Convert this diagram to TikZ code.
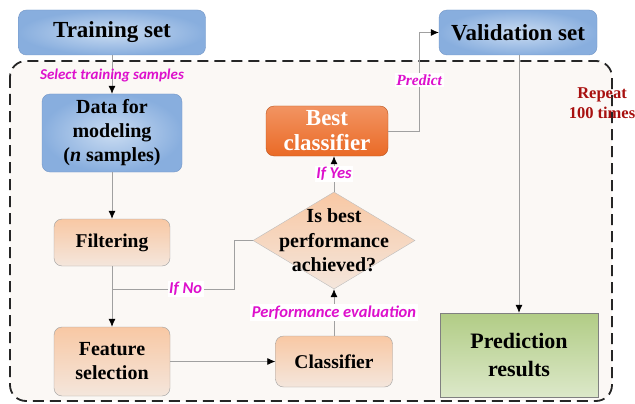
\documentclass[tikz,border=0pt]{standalone}
\usepackage{fontspec}
\setmainfont{Liberation Serif}
\newfontfamily\lblfont{Carlito}
\usetikzlibrary{shapes.geometric,arrows.meta}
\definecolor{fcblue}{HTML}{88AEDE}
\definecolor{fcbluelight}{HTML}{CADCF2}
\definecolor{fcblueline}{HTML}{7396C6}
\definecolor{fcpeach}{HTML}{F8C8A4}
\definecolor{fcpeachlight}{HTML}{F4E6DC}
\definecolor{fcorange}{HTML}{EA6A26}
\definecolor{fcorangelight}{HTML}{F29462}
\definecolor{fcgreen}{HTML}{B1CC85}
\definecolor{fcgreenlight}{HTML}{DCE8C9}
\definecolor{fcgrey}{HTML}{A0A0A0}
\definecolor{fcmag}{HTML}{DD10CC}
\definecolor{fcred}{HTML}{A8100F}
\definecolor{fcback}{HTML}{FBF8F5}
\begin{document}
\begin{tikzpicture}[x=1pt,y=-1pt,
    every text node part/.style={align=center},
    box/.style={rounded corners=8pt, inner sep=0pt, font=\bfseries\fontsize{20}{24}\selectfont},
    bluebox/.style={box, draw=fcblueline, inner color=fcbluelight, outer color=fcblue},
    peachbox/.style={box, draw=fcgrey, top color=fcpeach, bottom color=fcpeachlight},
    flow/.style={draw=fcgrey, line width=0.8pt, -{Latex[length=8pt,width=7pt,color=black]}},
    lbl/.style={font=\lblfont\bfseries\itshape\fontsize{16.5}{18}\selectfont, text=fcmag, inner sep=1.5pt}]
    \useasboundingbox (0,0) rectangle (635,404);
    \draw[black!85, line width=1.8pt, dash pattern=on 11pt off 6pt, rounded corners=16pt, fill=fcback]
      (10,61) rectangle (612,401);

    \node[bluebox, minimum width=187pt, minimum height=45pt, font=\bfseries\fontsize{23}{27}\selectfont] (FcTrain) at (112,32.5) {Training set};
    \node[bluebox, minimum width=158pt, minimum height=45pt, font=\bfseries\fontsize{23}{27}\selectfont] (FcVal) at (518,32.5) {Validation set};
    \node[bluebox, minimum width=140pt, minimum height=78pt] (FcData) at (112,133) {Data for\\modeling\\(\textit{n} samples)};
    \node[peachbox, minimum width=116pt, minimum height=47pt, font=\bfseries\fontsize{19.5}{23}\selectfont] (FcFilter) at (112,242.5) {Filtering};
    \node[peachbox, minimum width=116pt, minimum height=69pt] (FcFeat) at (112,361.5) {Feature\\selection};
    \node[peachbox, minimum width=117pt, minimum height=51pt, font=\bfseries\fontsize{19.5}{23}\selectfont] (FcClass) at (334,361.5) {Classifier};
    \node[diamond, draw=fcgrey!70, top color=fcpeach, bottom color=fcpeachlight, inner sep=0pt,
      minimum width=162pt, minimum height=97pt,
      label={[font=\bfseries\fontsize{20}{24.5}\selectfont, align=center]center:Is best\\performance\\achieved?}] (FcCheck) at (334,240.5) {};
    \node[box, draw=fcorange!80!black, top color=fcorangelight, bottom color=fcorange, text=white,
      minimum width=122pt, minimum height=50pt, font=\bfseries\fontsize{23}{25}\selectfont] (FcBest) at (327,131) {Best\\classifier};
    \node[draw=fcgrey!80!black, top color=fcgreen, bottom color=fcgreenlight, inner sep=0pt,
      minimum width=158pt, minimum height=84pt, font=\bfseries\fontsize{22}{28}\selectfont] (FcPred) at (519,355) {Prediction\\results};
    \node[text=fcred, font=\bfseries\fontsize{16.5}{20}\selectfont] (FcRepeat) at (602,103) {Repeat\\100 times};
    \coordinate (FcNoJoin) at (112,289);

    \draw[flow] (FcTrain) -- node[lbl, pos=0.52, font=\lblfont\bfseries\itshape\fontsize{15}{17}\selectfont] {Select training samples} (FcData);
    \draw[flow] (FcData) -- (FcFilter);
    \draw[flow] (FcFilter) -- (FcFeat);
    \draw[flow] (FcFeat) -- (FcClass);
    \draw[flow] (FcClass) -- node[lbl, fill=white] {Performance evaluation} (FcCheck);
    \draw[flow] (FcCheck.north) -- node[lbl, fill=white] {If Yes} (FcCheck.north |- FcBest.south);
    \draw[draw=fcgrey, line width=0.8pt] (FcCheck.west) -- ++(-18,0) |- node[lbl, fill=white, pos=0.7] {If No} (FcNoJoin);
    \draw[flow] (FcBest.east) -- ++(31,0) |- node[lbl, fill=white, pos=0.26, font=\bfseries\itshape\fontsize{15.5}{17}\selectfont] {Predict} (FcVal.west);
    \draw[flow] (FcVal.south -| FcPred.north) -- (FcPred.north);
  \end{tikzpicture}
\end{document}
